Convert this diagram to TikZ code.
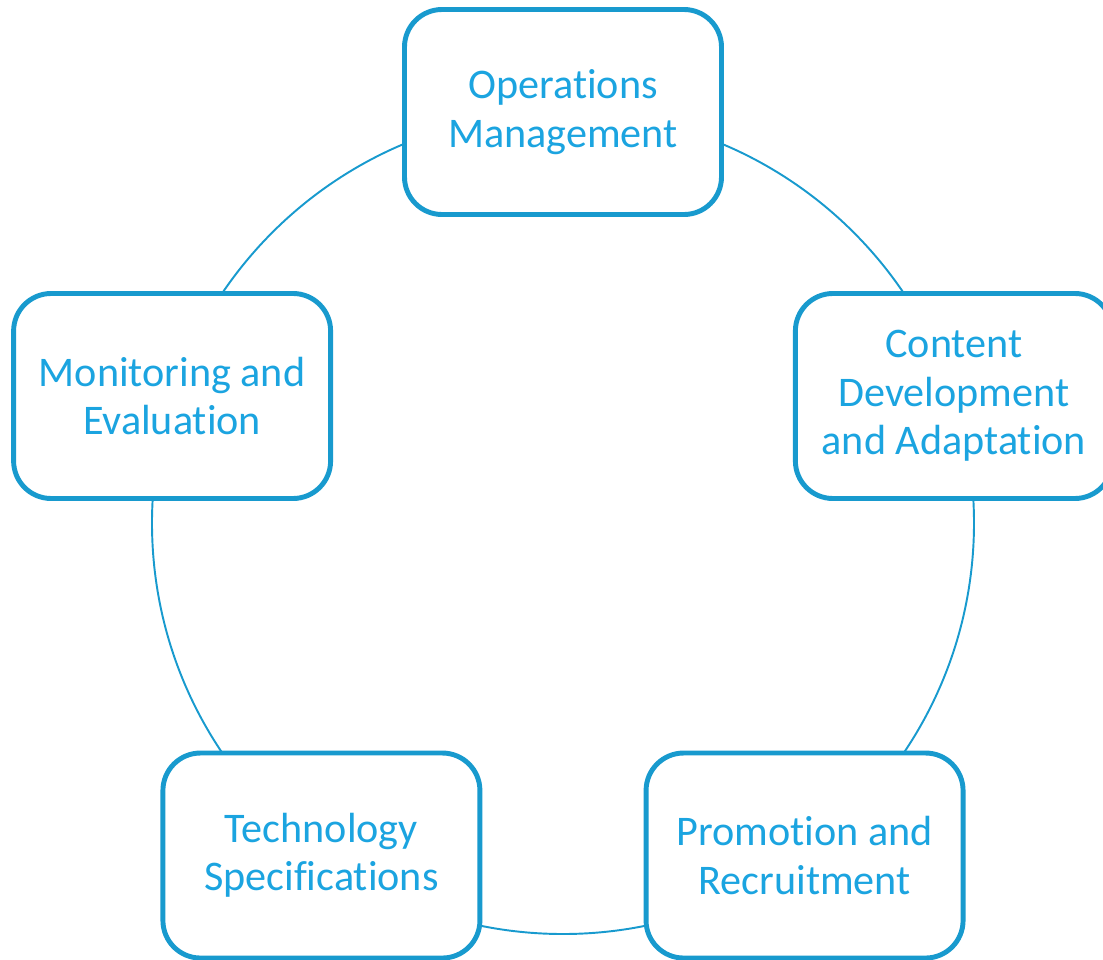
\documentclass[tikz,border=0pt]{standalone}
\usepackage{fontspec}
\setmainfont[Ligatures=NoCommon]{Carlito}
\usepackage{xcolor}
\usepackage{tikz}
\definecolor{ringblue}{RGB}{24,154,206}
\definecolor{textblue}{RGB}{27,164,224}

\begin{document}
\begin{tikzpicture}[thick, stage/.style = {draw=ringblue, line width=2.8pt, fill=white, rounded corners=0.75cm, minimum width=6.34cm, minimum height=4.1cm, align=center, text=textblue, font=\fontsize{24}{27.5}\selectfont}]
		\useasboundingbox (-11.26,-8.72) rectangle (10.8,10.46);
		% ring behind the stages
		\draw[ringblue, line width=1.1pt] (0,0) circle (8.22);
		
		\node[stage] (ops) at (90:8.22) {Operations\\Management};
		\node[stage] (content) at (18:8.22) {Content\\Development\\and Adaptation};
		\node[stage] (promo) at (-54:8.22) {Promotion and\\Recruitment};
		\node[stage] (tech) at (-126:8.22) {Technology\\Specifications};
		\node[stage] (monitor) at (162:8.22) {Monitoring and\\Evaluation};
	\end{tikzpicture}
\end{document}
